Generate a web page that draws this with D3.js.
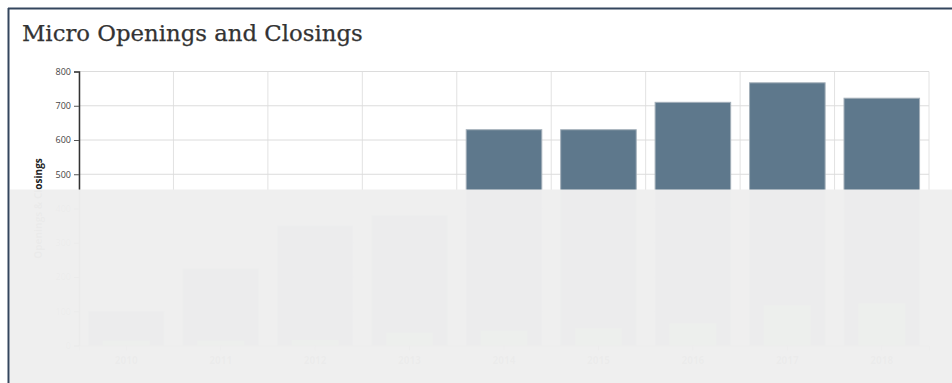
<!DOCTYPE html>
<html>
<head>
<meta charset="utf-8">
<script src="https://cdn.jsdelivr.net/npm/d3@7/dist/d3.min.js"></script>
<style>
  html, body { margin: 0; padding: 0; background: #ffffff; }
  svg { display: block; }
</style>
</head>
<body>
<svg id="chart" width="952" height="383"></svg>
<script>
// Yearly micro-business openings and closings
const years = ["2010", "2011", "2012", "2013", "2014", "2015", "2016", "2017", "2018"];
const openings = [100, 224, 349, 380, 630, 630, 710, 767, 722];
const closings = [14, 14, 16, 37, 43, 50, 65, 118, 123];
const yTicks = [0, 100, 200, 300, 400, 500, 600, 700, 800];

const svg = d3.select("#chart");
const W = 952, H = 383;

// card frame
svg.append("rect").attr("x", 0).attr("y", 0).attr("width", W).attr("height", H).attr("fill", "#ffffff");
svg.append("line").attr("x1", 8).attr("x2", W).attr("y1", 8.5).attr("y2", 8.5)
  .attr("stroke", "#34465e").attr("stroke-width", 2);
svg.append("line").attr("x1", 8.5).attr("x2", 8.5).attr("y1", 8).attr("y2", H)
  .attr("stroke", "#34465e").attr("stroke-width", 2);

svg.append("text")
  .attr("x", 22).attr("y", 41)
  .attr("font-family", "'DejaVu Serif', serif")
  .attr("font-size", 22.8)
  .attr("fill", "#333333")
  .attr("stroke", "#333333").attr("stroke-width", 0.25)
  .text("Micro Openings and Closings");

const m = { left: 79, right: 929, top: 71.5, bottom: 345.5 };

const x = d3.scaleBand().domain(years).range([m.left, m.right])
  .paddingInner(0.2).paddingOuter(0.1);
const y = d3.scaleLinear().domain([0, 800]).range([m.bottom, m.top]);

const g = svg.append("g");

// grid
const step = x.step();
g.append("g").selectAll("line.v")
  .data(d3.range(years.length + 1))
  .join("line")
  .attr("x1", i => m.left + i * step).attr("x2", i => m.left + i * step)
  .attr("y1", m.top).attr("y2", m.bottom)
  .attr("stroke", "#e2e2e2").attr("stroke-width", 1);
g.append("g").selectAll("line.h")
  .data(yTicks)
  .join("line")
  .attr("x1", m.left).attr("x2", m.right)
  .attr("y1", d => y(d)).attr("y2", d => y(d))
  .attr("stroke", "#dcdcdc").attr("stroke-width", 1);

// openings
g.append("g").selectAll("rect")
  .data(years)
  .join("rect")
  .attr("x", d => x(d))
  .attr("width", x.bandwidth())
  .attr("y", (d, i) => y(openings[i]))
  .attr("height", (d, i) => y(0) - y(openings[i]))
  .attr("fill", "#5e788c")
  .attr("stroke", "#a3afb9")
  .attr("stroke-width", 1);

// closings, narrower bars in front
const inset = x.bandwidth() * 0.19;
g.append("g").selectAll("rect")
  .data(years)
  .join("rect")
  .attr("x", d => x(d) + inset)
  .attr("width", x.bandwidth() - 2 * inset)
  .attr("y", (d, i) => y(closings[i]))
  .attr("height", (d, i) => y(0) - y(closings[i]))
  .attr("fill", "#a9d8a9");

// axes
const yAxis = g.append("g")
  .attr("transform", `translate(${m.left},0)`)
  .call(d3.axisLeft(y).tickValues(yTicks).tickSize(5).tickPadding(3));
yAxis.select(".domain").attr("stroke", "#333").attr("stroke-width", 1.5);
yAxis.selectAll(".tick line").attr("stroke", "#555");
yAxis.selectAll("text").attr("font-family", "'Open Sans', sans-serif")
  .attr("font-size", 9).attr("fill", "#444");

const xAxis = g.append("g")
  .attr("transform", `translate(0,${m.bottom})`)
  .call(d3.axisBottom(x).tickSize(5).tickPadding(6));
xAxis.select(".domain").attr("stroke", "#999");
xAxis.selectAll(".tick line").attr("stroke", "#777");
xAxis.selectAll("text").attr("font-family", "'Open Sans', sans-serif")
  .attr("font-size", 10).attr("font-weight", "bold").attr("fill", "#444");

svg.append("text")
  .attr("transform", `translate(42,${(m.top + m.bottom) / 2}) rotate(-90)`)
  .attr("text-anchor", "middle")
  .attr("font-family", "'Open Sans', sans-serif")
  .attr("font-size", 10).attr("font-weight", "bold").attr("fill", "#222")
  .text("Openings & Closings");

// pale panel laid over the lower part of the card
svg.append("rect")
  .attr("x", 10).attr("y", 189.5).attr("width", W - 10).attr("height", H - 189.5)
  .attr("fill", "#efefef").attr("opacity", 0.982);
</script>
</body>
</html>
